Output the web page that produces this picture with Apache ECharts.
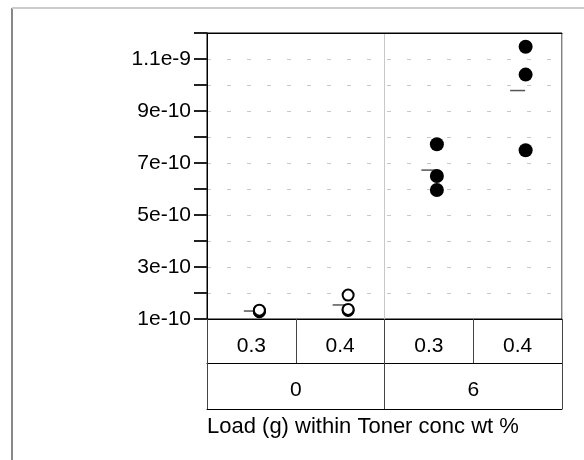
<!DOCTYPE html>
<html>
<head>
<meta charset="utf-8">
<script src="https://cdn.jsdelivr.net/npm/echarts@6/dist/echarts.min.js"></script>
<style>
  html, body { margin: 0; padding: 0; background: #fff; }
  #chart { width: 584px; height: 460px; }
</style>
</head>
<body>
<div id="chart"></div>
<script>
// Load (g) 分类 + Toner conc wt % 分组
var loadCats = ["0.3", "0.4", "0.3", "0.4"];
var tonerCats = ["0", "6"];
// 每个单元格的三个观测值
var cell0 = [1.28e-10, 1.30e-10, 1.34e-10];
var cell1 = [1.33e-10, 1.37e-10, 1.92e-10];
var cell2 = [5.96e-10, 6.50e-10, 7.72e-10];
var cell3 = [7.49e-10, 1.040e-9, 1.147e-9];
// y 轴刻度标签（每隔一个显示）
var yLabels = ["1e-10", "", "3e-10", "", "5e-10", "", "7e-10", "", "9e-10", "", "1.1e-9", ""];
var titleText = "Load (g) within Toner conc wt %";

var FONT = "'Liberation Sans', Arial, sans-serif";

function toPoints(cells, idx) {
  var pts = [];
  for (let i = 0; i < idx.length; i++) {
    for (let j = 0; j < cells[i].length; j++) {
      pts.push([idx[i], cells[i][j]]);
    }
  }
  return pts;
}
function mean(arr) {
  var s = 0;
  for (let i = 0; i < arr.length; i++) s += arr[i];
  return s / arr.length;
}

var allCells = [cell0, cell1, cell2, cell3];
var meanData = [];
for (let i = 0; i < allCells.length; i++) {
  meanData.push([i, mean(allCells[i])]);
}

var chart = echarts.init(document.getElementById("chart"));
chart.setOption({
  animation: false,
  backgroundColor: "#fff",
  textStyle: { fontFamily: FONT },
  title: {
    text: titleText,
    left: 207,
    top: 416,
    padding: 0,
    textStyle: { fontFamily: FONT, fontSize: 22, fontWeight: "normal", color: "#000" }
  },
  graphic: [
    { type: "line", shape: { x1: 12, y1: 8, x2: 12, y2: 460 }, style: { stroke: "#888", lineWidth: 2 } },
    { type: "line", shape: { x1: 12, y1: 8, x2: 584, y2: 8 }, style: { stroke: "#ccc", lineWidth: 2 } }
  ],
  grid: {
    left: 207,
    right: 22,
    top: 33,
    bottom: 141,
    show: true,
    borderColor: "#000",
    borderWidth: 1
  },
  xAxis: [
    {
      type: "category",
      data: loadCats,
      position: "bottom",
      axisLine: { show: true, lineStyle: { color: "#000", width: 1 } },
      axisTick: { show: true, interval: 0, length: 44, lineStyle: { color: "#444" } },
      axisLabel: { interval: 0, fontSize: 21, color: "#000", margin: 17, fontFamily: FONT },
      splitLine: { show: false }
    },
    {
      type: "category",
      data: tonerCats,
      position: "bottom",
      offset: 44,
      axisLine: { show: true, lineStyle: { color: "#000", width: 1 } },
      axisTick: { show: true, interval: 0, length: 46, lineStyle: { color: "#444" } },
      axisLabel: { interval: 0, fontSize: 21, color: "#000", margin: 17, fontFamily: FONT },
      splitLine: { show: true, lineStyle: { color: "#c8c8c8", width: 1 } }
    },
    {
      type: "category",
      data: [""],
      position: "bottom",
      offset: 90,
      axisLine: { show: true, lineStyle: { color: "#000", width: 1 } },
      axisTick: { show: false },
      axisLabel: { show: false },
      splitLine: { show: false }
    },
    {
      // 顶部边框线
      type: "category",
      data: [""],
      position: "top",
      axisLine: { show: true, lineStyle: { color: "#000", width: 1 } },
      axisTick: { show: false },
      axisLabel: { show: false },
      splitLine: { show: false }
    }
  ],
  yAxis: {
    type: "value",
    min: 1e-10,
    max: 1.2e-9,
    interval: 1e-10,
    axisLine: { show: true, lineStyle: { color: "#000", width: 1 } },
    axisTick: { show: true, length: 13, lineStyle: { color: "#222", width: 2 } },
    axisLabel: {
      fontSize: 21,
      color: "#000",
      margin: 16,
      fontFamily: FONT,
      formatter: function (v) {
        var k = Math.round(v / 1e-10) - 1;
        return yLabels[k] || "";
      }
    },
    splitLine: {
      show: true,
      showMinLine: false,
      showMaxLine: false,
      lineStyle: { color: "#c8c8c8", width: 1, type: [4, 16] }
    }
  },
  series: [
    {
      // 均值短横线
      type: "scatter",
      xAxisIndex: 0,
      symbol: "rect",
      symbolSize: [15, 1.5],
      itemStyle: { color: "#555", opacity: 1 },
      data: meanData,
      z: 2
    },
    {
      type: "scatter",
      xAxisIndex: 0,
      symbol: "circle",
      symbolSize: 11,
      symbolOffset: [8, 0],
      itemStyle: { color: "#fff", borderColor: "#000", borderWidth: 2, opacity: 1 },
      data: toPoints([cell0, cell1], [0, 1]),
      z: 3
    },
    {
      type: "scatter",
      xAxisIndex: 0,
      symbol: "circle",
      symbolSize: 14,
      symbolOffset: [8, 0],
      itemStyle: { color: "#000", opacity: 1 },
      data: toPoints([cell2, cell3], [2, 3]),
      z: 3
    }
  ]
});
</script>
</body>
</html>
